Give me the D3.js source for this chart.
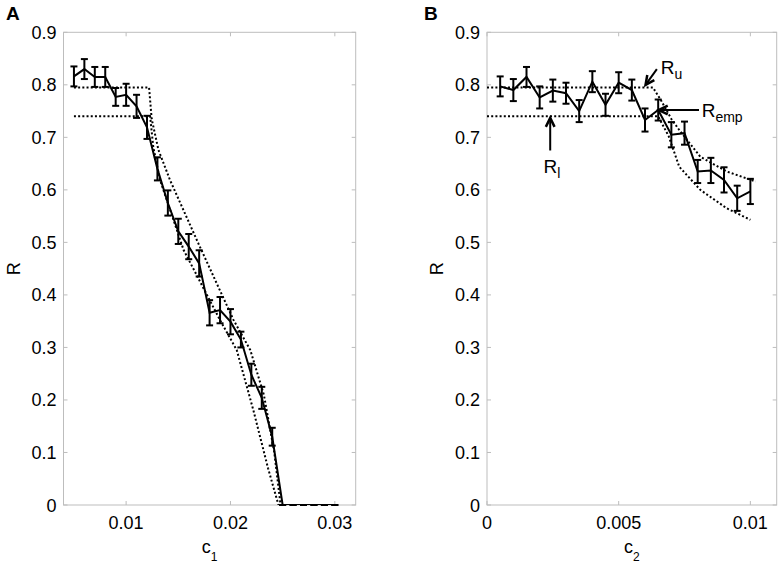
<!DOCTYPE html>
<html><head><meta charset="utf-8">
<script src="https://cdn.jsdelivr.net/npm/d3@7"></script>
<style>
body{margin:0;background:#fff}
svg{display:block}
text{font-family:"Liberation Sans",Arial,Helvetica,sans-serif;fill:#000}
</style>
</head><body>
<svg id="c" width="781" height="567"></svg>
<script>
// ---------- Panel A data ----------
const cA = [0.005,0.006,0.007,0.008,0.009,0.010,0.011,0.012,0.013,0.014,0.015,0.016,0.017,0.018,0.019,0.020,0.021,0.022,0.023,0.024,0.025,0.026,0.027,0.028,0.029,0.030];
const rA = [0.816,0.830,0.815,0.815,0.777,0.781,0.759,0.719,0.640,0.575,0.521,0.492,0.460,0.366,0.371,0.349,0.315,0.248,0.204,0.130,0,0,0,0,0,0];
const eA = [0.019,0.019,0.019,0.019,0.017,0.021,0.022,0.022,0.022,0.024,0.024,0.024,0.025,0.024,0.025,0.024,0.015,0.021,0.021,0.017,0,0,0,0,0,0];
const uA_c = [0.005,0.0122,0.01245,0.0131,0.0142,0.0169,0.0203,0.0219,0.0232,0.0242,0.0248,0.030];
const uA_r = [0.795,0.795,0.735,0.676,0.619,0.499,0.352,0.295,0.21,0.10,0,0];
const lA_c = [0.005,0.0123,0.0126,0.01325,0.0155,0.0190,0.0206,0.0222,0.0236,0.0246,0.030];
const lA_r = [0.740,0.740,0.682,0.619,0.486,0.352,0.295,0.18,0.07,0,0];
const xTicksA = [0.01,0.02,0.03];
const xTickLabelsA = ["0.01","0.02","0.03"];

// ---------- Panel B data ----------
const cB = [0.0005,0.001,0.0015,0.002,0.0025,0.003,0.0035,0.004,0.0045,0.005,0.0055,0.006,0.0065,0.007,0.0075,0.008,0.0085,0.009,0.0095,0.010];
const rB = [0.797,0.790,0.815,0.776,0.789,0.784,0.750,0.806,0.762,0.804,0.790,0.733,0.752,0.705,0.708,0.635,0.637,0.619,0.584,0.597];
const eB = [0.019,0.021,0.019,0.021,0.021,0.020,0.021,0.020,0.021,0.020,0.020,0.022,0.020,0.024,0.022,0.022,0.024,0.024,0.024,0.024];
const uB_c = [0,0.0063,0.0066,0.0070,0.0073,0.0081,0.0091,0.0102];
const uB_r = [0.795,0.795,0.771,0.735,0.714,0.663,0.635,0.616];
const lB_c = [0,0.0065,0.0069,0.0073,0.0081,0.0091,0.0100];
const lB_r = [0.740,0.740,0.702,0.644,0.600,0.565,0.543];
const xTicksB = [0,0.005,0.01];
const xTickLabelsB = ["0","0.005","0.01"];

const yTicks = [0,0.1,0.2,0.3,0.4,0.5,0.6,0.7,0.8,0.9];
const yTickLabels = ["0","0.1","0.2","0.3","0.4","0.5","0.6","0.7","0.8","0.9"];

const svg = d3.select("#c");
const AXC = "#bdbdbd";
const FS = 18;

function panel(o){
  const g = svg.append("g");
  const x = d3.scaleLinear().domain(o.xdom).range([o.left,o.right]);
  const y = d3.scaleLinear().domain([0,0.9]).range([o.bottom,o.top]);
  const cid = "clip"+o.letter;
  svg.append("clipPath").attr("id",cid).append("rect")
    .attr("x",o.left).attr("y",o.top-10).attr("width",o.right-o.left).attr("height",o.bottom-o.top+10);
  // box
  g.append("rect").attr("x",o.left).attr("y",o.top)
    .attr("width",o.right-o.left).attr("height",o.bottom-o.top)
    .attr("fill","none").attr("stroke",AXC).attr("stroke-width",1);
  // ticks (inward, all sides)
  const TL = 4;
  o.xticks.forEach((t,i)=>{
    const px = x(t);
    g.append("line").attr("x1",px).attr("x2",px).attr("y1",o.bottom).attr("y2",o.bottom-TL).attr("stroke",AXC);
    g.append("line").attr("x1",px).attr("x2",px).attr("y1",o.top).attr("y2",o.top+TL).attr("stroke",AXC);
    g.append("text").attr("x",px).attr("y",o.bottom+24).attr("text-anchor","middle")
      .attr("font-size",FS).text(o.xlabels[i]);
  });
  yTicks.forEach((t,i)=>{
    const py = y(t);
    g.append("line").attr("x1",o.left).attr("x2",o.left+TL).attr("y1",py).attr("y2",py).attr("stroke",AXC);
    g.append("line").attr("x1",o.right).attr("x2",o.right-TL).attr("y1",py).attr("y2",py).attr("stroke",AXC);
    g.append("text").attr("x",o.left-7).attr("y",py+6.5).attr("text-anchor","end")
      .attr("font-size",FS).text(yTickLabels[i]);
  });
  const dg = g.append("g").attr("clip-path",`url(#${cid})`);
  // bounds (dotted)
  const line = d3.line().x(d=>x(d[0])).y(d=>y(d[1]));
  [[o.uc,o.ur],[o.lc,o.lr]].forEach(([cs,rs])=>{
    dg.append("path").attr("d",line(cs.map((c,i)=>[c,rs[i]])))
      .attr("fill","none").attr("stroke","#000").attr("stroke-width",2)
      .attr("stroke-dasharray","2,2.2");
  });
  // data line
  dg.append("path").attr("d",line(o.c.map((c,i)=>[c,o.r[i]])))
    .attr("fill","none").attr("stroke","#000").attr("stroke-width",2).attr("stroke-linejoin","miter");
  // error bars
  o.c.forEach((c,i)=>{
    const px = x(c), y1 = y(o.r[i]-o.e[i]), y2 = y(o.r[i]+o.e[i]);
    g.append("line").attr("x1",px).attr("x2",px).attr("y1",y1).attr("y2",y2).attr("stroke","#000").attr("stroke-width",2);
    [y1,y2].forEach(yy=>g.append("line").attr("x1",px-3.5).attr("x2",px+3.5).attr("y1",yy).attr("y2",yy).attr("stroke","#000").attr("stroke-width",2));
  });
  // axis labels
  const cx = (o.left+o.right)/2;
  const xl = g.append("text").attr("x",cx).attr("y",553).attr("text-anchor","middle").attr("font-size",FS);
  xl.append("tspan").text("c");
  xl.append("tspan").attr("dy",8).attr("font-size",12).text(o.sub);
  g.append("text").attr("transform",`translate(${o.left-44},${(o.top+o.bottom)/2}) rotate(-90)`)
    .attr("text-anchor","middle").attr("font-size",FS).text("R");
  // panel letter
  g.append("text").attr("x",o.letterX).attr("y",20).attr("font-size",19).attr("font-weight","bold").text(o.letter);
  return {x,y,g};
}

panel({left:63.5,right:355.7,top:32.3,bottom:505,xdom:[0.004,0.032],xticks:xTicksA,xlabels:xTickLabelsA,
  c:cA,r:rA,e:eA,uc:uA_c,ur:uA_r,lc:lA_c,lr:lA_r,sub:"1",letter:"A",letterX:6});
const pB = panel({left:487,right:776.7,top:32.3,bottom:505,xdom:[0,0.011],xticks:xTicksB,xlabels:xTickLabelsB,
  c:cB,r:rB,e:eB,uc:uB_c,ur:uB_r,lc:lB_c,lr:lB_r,sub:"2",letter:"B",letterX:424});

// annotations panel B
function arrow(g,x1,y1,x2,y2){
  g.append("line").attr("x1",x1).attr("y1",y1).attr("x2",x2).attr("y2",y2).attr("stroke","#000").attr("stroke-width",2);
  const a = Math.atan2(y2-y1,x2-x1), L = 10, w = 0.45;
  const p = [[x2-L*Math.cos(a-w),y2-L*Math.sin(a-w)],[x2,y2],[x2-L*Math.cos(a+w),y2-L*Math.sin(a+w)]];
  g.append("path").attr("d",d3.line()(p)).attr("fill","none").attr("stroke","#000").attr("stroke-width",2.5).attr("stroke-linejoin","miter");
}
function label(g,x,y,main,sub){
  const t = g.append("text").attr("x",x).attr("y",y).attr("font-size",19);
  t.append("tspan").text(main);
  t.append("tspan").attr("dy",5).attr("font-size",14).text(sub);
}
const gx = pB.x, gy = pB.y, ga = pB.g;
arrow(ga, gx(0.00645), gy(0.830), gx(0.00602), gy(0.800));
label(ga, gx(0.0066), gy(0.82), "R","u");
arrow(ga, gx(0.00805), gy(0.752), gx(0.00652), gy(0.752));
label(ga, gx(0.00815), gy(0.738), "R","emp");
arrow(ga, gx(0.0024), gy(0.675), gx(0.0024), gy(0.737));
label(ga, gx(0.00215), gy(0.632), "R","l");
</script>
</body></html>
